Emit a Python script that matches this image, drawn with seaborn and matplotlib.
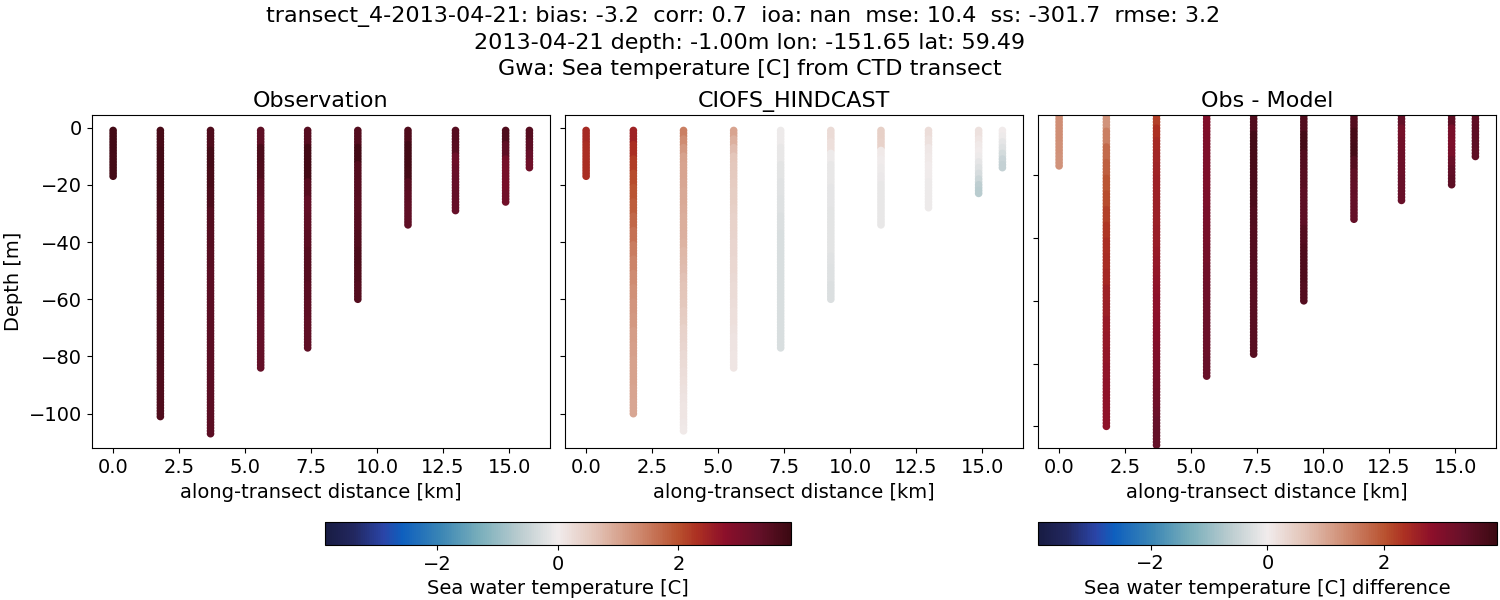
import matplotlib

matplotlib.use("Agg")
import matplotlib.pyplot as plt
import numpy as np
import pandas as pd
import seaborn as sns
from matplotlib.cm import ScalarMappable
from matplotlib.colors import LinearSegmentedColormap, Normalize

# colour stops
CMAP_POS = [0.0, 0.06, 0.125, 0.165, 0.25, 0.33, 0.42, 0.5, 0.58, 0.67, 0.76, 0.8, 0.86, 0.93, 1.0]
CMAP_COLORS = [
    "#181c43", "#22275f", "#2a45a8", "#0e5fbe", "#3c87b5", "#78aebb", "#bccdd0", "#f1ecec",
    "#e3c4b8", "#cf8c72", "#b8502e", "#ac3022", "#8c0f2a", "#661029", "#3c0912",
]

CAST_KM = [0.0, 1.79, 3.69, 5.59, 7.37, 9.27, 11.17, 12.97, 14.87, 15.77]
OBS_BOTTOM = [-17, -101, -107, -84, -77, -60, -34, -29, -26, -14]
MODEL_BOTTOM = [-17, -100, -106, -84, -77, -60, -34, -28, -23, -14]

# readings down each cast, top to bottom; each covers an equal share of the cast
OBS_TEMP = [
    [3.75, 3.75, 3.72, 3.72],
    [3.68, 3.75, 3.74, 3.72, 3.7, 3.68, 3.66, 3.66, 3.65, 3.64, 3.64, 3.62, 3.62, 3.6, 3.6, 3.6],
    [3.6, 3.72, 3.7, 3.62, 3.55, 3.5, 3.48, 3.46, 3.45, 3.45, 3.44, 3.44, 3.44, 3.44, 3.44, 3.44],
    [3.4, 3.62, 3.6, 3.45, 3.4, 3.36, 3.38, 3.4, 3.42, 3.4, 3.36, 3.34, 3.32, 3.32],
    [3.5, 3.74, 3.74, 3.5, 3.36, 3.38, 3.44, 3.52, 3.5, 3.46, 3.42, 3.4, 3.38],
    [3.55, 3.75, 3.55, 3.5, 3.48, 3.5, 3.58, 3.62, 3.6, 3.55],
    [3.6, 3.74, 3.74, 3.72, 3.5, 3.42, 3.4, 3.38],
    [3.5, 3.48, 3.2, 3.28, 3.3, 3.32, 3.3],
    [3.6, 3.4, 3.08, 3.05, 3.05, 3.15],
    [3.5, 3.42, 3.28, 3.18],
]
MODEL_TEMP = [
    [2.4, 2.35, 2.35, 2.35],
    [2.5, 2.35, 2.2, 2.05, 1.95, 1.85, 1.72, 1.6, 1.5, 1.4, 1.32, 1.25, 1.2, 1.15, 1.1, 1.08, 1.05, 1.03, 1.0, 0.98],
    [1.45, 1.3, 1.15, 1.05, 1.02, 1.0, 0.98, 0.96, 0.94, 0.92, 0.9, 0.88, 0.85, 0.82, 0.78, 0.74, 0.7, 0.66, 0.62, 0.58,
     0.55, 0.5, 0.46, 0.42, 0.38, 0.34, 0.3, 0.26, 0.23, 0.2, 0.17, 0.14, 0.12, 0.1, 0.08, 0.06],
    [1.0, 0.85, 0.7, 0.6, 0.55, 0.52, 0.5, 0.48, 0.46, 0.44, 0.42, 0.4, 0.38, 0.36, 0.35, 0.33, 0.31, 0.29, 0.27, 0.25,
     0.23, 0.21, 0.19, 0.17, 0.15, 0.13, 0.12, 0.11],
    [-0.06, -0.12, -0.16, -0.2, -0.24, -0.27, -0.28, -0.29, -0.29, -0.29, -0.28, -0.28, -0.28],
    [0.25, 0.2, -0.04, -0.1, -0.12, -0.14, -0.15, -0.16, -0.16, -0.18, -0.18, -0.2, -0.22, -0.24, -0.26, -0.26],
    [0.45, 0.4, 0.04, -0.02, -0.06, -0.08, -0.1, -0.1, -0.12, -0.12, -0.12],
    [0.22, 0.16, 0.08, 0.04, 0.0, -0.02, -0.04, -0.05, -0.05, -0.04],
    [0.16, 0.1, 0.06, 0.0, -0.06, -0.14, -0.22, -0.32, -0.45, -0.58, -0.66],
    [0.0, -0.06, -0.14, -0.24, -0.36, -0.46, -0.54],
]
DIFF_TEMP = [
    [1.3, 1.3, 1.28, 1.25],
    [1.25, 1.5, 1.72, 1.85, 1.98, 2.08, 2.18, 2.28, 2.38, 2.42, 2.48, 2.55, 2.6, 2.65, 2.7, 2.72, 2.75, 2.78, 2.78, 2.78],
    [2.2, 2.35, 2.45, 2.5, 2.52, 2.55, 2.55, 2.58, 2.6, 2.62, 2.64, 2.66, 2.7, 2.72, 2.75, 2.78, 2.8, 2.82, 2.85, 2.88,
     2.9, 2.95, 3.0, 3.05, 3.1, 3.15, 3.2, 3.25, 3.3, 3.35, 3.4, 3.4],
    [3.0, 3.02, 3.02, 3.02, 3.04, 3.08, 3.12, 3.16, 3.2, 3.24, 3.28, 3.3, 3.3, 3.32],
    [3.65, 3.78, 3.75, 3.72, 3.7, 3.65, 3.62, 3.6, 3.58, 3.56, 3.54, 3.54, 3.54],
    [3.65, 3.78, 3.62, 3.55, 3.5, 3.5, 3.6, 3.68, 3.68, 3.62],
    [3.6, 3.75, 3.78, 3.6, 3.45, 3.42, 3.4, 3.38],
    [3.4, 3.15, 3.2, 3.26, 3.3, 3.32, 3.32],
    [3.45, 3.08, 3.05, 3.1, 3.3, 3.42, 3.48],
    [3.45, 3.5, 3.48, 3.45],
]

X_TICKS = [0.0, 2.5, 5.0, 7.5, 10.0, 12.5, 15.0]
Y_TICKS = [0, -20, -40, -60, -80, -100]
CBAR_TICKS = [-2, 0, 2]

SUPTITLE = (
    "transect_4-2013-04-21: bias: -3.2  corr: 0.7  ioa: nan  mse: 10.4  ss: -301.7  rmse: 3.2  \n"
    "2013-04-21 depth: -1.00m lon: -151.65 lat: 59.49\n"
    "Gwa: Sea temperature [C] from CTD transect"
)


def cast_frame(bottoms: list[int], readings: list[list[float]]) -> pd.DataFrame:
    rows = []
    for km, bottom, temps in zip(CAST_KM, bottoms, readings):
        depths = np.arange(-1, bottom - 1, -1)
        chunks = np.array_split(depths, len(temps))
        for chunk, temp in zip(chunks, temps):
            rows.extend({"km": km, "depth": d, "temp": temp} for d in chunk)
    return pd.DataFrame(rows)


def draw_panel(ax, df, norm, cmap, title, ylim):
    sns.scatterplot(
        data=df, x="km", y="depth", hue="temp", hue_norm=norm, palette=cmap,
        s=30, linewidth=0, legend=False, ax=ax,
    )
    ax.set_xlim(-0.8, 16.55)
    ax.set_ylim(*ylim)
    ax.set_xticks(X_TICKS)
    ax.set_yticks([t for t in Y_TICKS if ylim[0] <= t <= ylim[1]])
    ax.set_xlabel("along-transect distance [km]")
    ax.set_ylabel("")
    ax.set_title(title)


def px_axes(fig, left, top, right, bottom):
    return fig.add_axes([left / 1500, 1 - bottom / 600, (right - left) / 1500, (bottom - top) / 600])


def main() -> None:
    sns.set_theme(
        style="ticks",
        rc={
            "axes.linewidth": 0.8, "axes.edgecolor": "black", "axes.labelcolor": "black",
            "xtick.color": "black", "ytick.color": "black", "text.color": "black",
            "xtick.major.size": 3.5, "ytick.major.size": 3.5,
            "xtick.major.width": 0.8, "ytick.major.width": 0.8,
            "font.size": 14, "axes.labelsize": 14, "axes.titlesize": 16,
            "xtick.labelsize": 14, "ytick.labelsize": 14,
        },
    )
    plt.rcParams["font.family"] = ["DejaVu Sans"]

    cmap = LinearSegmentedColormap.from_list("balance", list(zip(CMAP_POS, CMAP_COLORS)))
    norm = Normalize(-3.86, 3.86)
    diff_norm = Normalize(-3.93, 3.93)

    fig = plt.figure(figsize=(15, 6), dpi=100)
    ax_obs = px_axes(fig, 92, 115.3, 550, 448.3)
    ax_model = px_axes(fig, 565, 115.3, 1023, 448.3)
    ax_diff = px_axes(fig, 1038, 115.3, 1496, 448.3)

    draw_panel(ax_obs, cast_frame(OBS_BOTTOM, OBS_TEMP), norm, cmap, "Observation", (-112.1, 4.3))
    draw_panel(ax_model, cast_frame(MODEL_BOTTOM, MODEL_TEMP), norm, cmap, "CIOFS_HINDCAST", (-112.1, 4.3))
    draw_panel(ax_diff, cast_frame(MODEL_BOTTOM, DIFF_TEMP), diff_norm, cmap, "Obs - Model", (-107.0, -0.88))
    ax_obs.set_ylabel("Depth [m]")
    ax_model.tick_params(labelleft=False)
    ax_diff.tick_params(labelleft=False)

    cax = px_axes(fig, 325, 522.3, 790.7, 545)
    cbar = fig.colorbar(ScalarMappable(norm=norm, cmap=cmap), cax=cax, orientation="horizontal")
    cbar.set_ticks(CBAR_TICKS)
    cbar.set_label("Sea water temperature [C]")

    cax2 = px_axes(fig, 1038.3, 522.3, 1496.5, 544.5)
    cbar2 = fig.colorbar(ScalarMappable(norm=diff_norm, cmap=cmap), cax=cax2, orientation="horizontal")
    cbar2.set_ticks(CBAR_TICKS)
    cbar2.set_label("Sea water temperature [C] difference")

    fig.suptitle(SUPTITLE, x=0.5, y=0.99, fontsize=16, va="top", linespacing=1.36)
    fig.savefig("out.png", dpi=100)


if __name__ == "__main__":
    main()
